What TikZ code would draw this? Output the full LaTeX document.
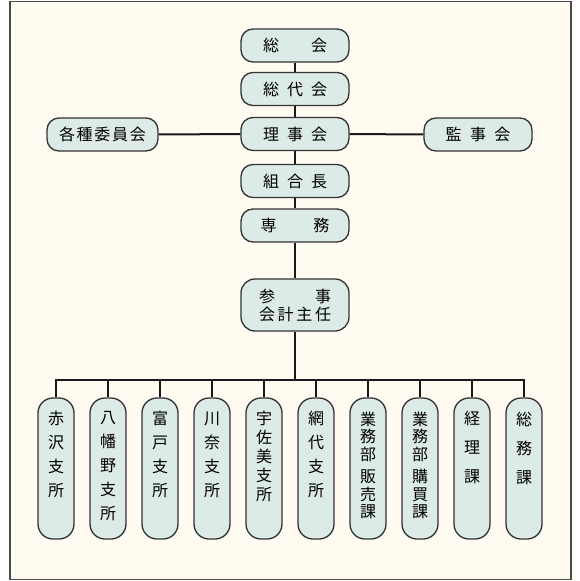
\documentclass[tikz,border=0pt]{standalone}
\usepackage{fontspec}
\setmainfont{Noto Sans CJK JP}
\definecolor{bgcream}{HTML}{FFFBF0}
\definecolor{boxfill}{HTML}{DCEAE8}
\definecolor{boxline}{HTML}{333333}
\definecolor{frameline}{HTML}{4A4A4A}
\newcommand{\spbox}[2]{\makebox[#1][s]{#2}}
\begin{document}
\begin{tikzpicture}[x=1pt,y=-1pt,
  hbox/.style={draw=boxline,fill=boxfill,line width=1.3pt,rounded corners=12pt,
    minimum height=33pt,inner sep=0pt,font=\fontsize{16}{18}\selectfont},
  vbox/.style={draw=boxline,fill=boxfill,line width=1.3pt,rounded corners=15pt,
    minimum width=36pt,minimum height=141pt,inner sep=0pt},
  vtext/.style={anchor=north,inner sep=0pt,align=center},
  conn/.style={line width=2pt,draw=black!90}]
\useasboundingbox (0,0) rectangle (580,581);
\fill[white] (0,0) rectangle (580,581);
\draw[frameline,fill=bgcream,line width=1.4pt] (10,1.5) rectangle (571,579.5);

% top column
\node[hbox,minimum width=108pt] (soukai) at (295,45.5) {\spbox{64pt}{総\hfill 会}};
\node[hbox,minimum width=108pt] (soudai) at (295,89) {\spbox{64pt}{総\hfill 代\hfill 会}};
\node[hbox,minimum width=108pt] (riji) at (295,134) {\spbox{64pt}{理\hfill 事\hfill 会}};
\node[hbox,minimum width=108pt] (kumiai) at (295,181) {\spbox{64pt}{組\hfill 合\hfill 長}};
\node[hbox,minimum width=108pt] (senmu) at (295,225.5) {\spbox{69pt}{専\hfill 務}};
\node[hbox,minimum width=108pt,minimum height=52pt,align=center,rounded corners=14pt] (sanji) at (295,305)
  {\fontsize{16}{20}\selectfont\spbox{72pt}{参\hfill 事}\\\spbox{72pt}{会\hfill 計\hfill 主\hfill 任}};
\node[hbox,minimum width=111pt] (iin) at (102.5,134.5) {\spbox{87pt}{各\hfill 種\hfill 委\hfill 員\hfill 会}};
\node[hbox,minimum width=108pt] (kanji) at (478,134.5) {\spbox{65pt}{監\hfill 事\hfill 会}};

\draw[conn] (soukai) -- (soudai);
\draw[conn] (soudai) -- (riji);
\draw[conn] (riji) -- (kumiai);
\draw[conn] (kumiai) -- (senmu);
\draw[conn] (senmu) -- (sanji);
\draw[conn] (iin) -- (riji);
\draw[conn] (riji) -- (kanji);

% bottom row
\foreach \i/\nm in {0/b1,1/b2,2/b3,3/b4,4/b5,5/b6,6/b7,7/b8,8/b9,9/b10}{
  \node[vbox] (\nm) at ({56+52*\i},468.5) {};
}
\coordinate (bus) at (295,379.5);
\draw[conn] (sanji.south) -- (bus);
\draw[conn] (b1.north) -- (b1.north |- bus) -- (b10.north |- bus) -- (b10.north);
\foreach \nm in {b2,b3,b4,b5,b6,b7,b8,b9}{
  \draw[conn] (\nm.north) -- (\nm.north |- bus);
}

\node[vtext,font=\fontsize{16}{24}\selectfont] (t1) at ([yshift=-14pt]b1.north) {赤\\沢\\支\\所};
\node[vtext,font=\fontsize{16}{24}\selectfont] (t2) at ([yshift=-14pt]b2.north) {八\\幡\\野\\支\\所};
\node[vtext,font=\fontsize{16}{24}\selectfont] (t3) at ([yshift=-14pt]b3.north) {富\\戸\\支\\所};
\node[vtext,font=\fontsize{16}{24}\selectfont] (t4) at ([yshift=-14pt]b4.north) {川\\奈\\支\\所};
\node[vtext,font=\fontsize{16}{19}\selectfont] (t5) at ([yshift=-14pt]b5.north) {宇\\佐\\美\\支\\所};
\node[vtext,font=\fontsize{16}{24}\selectfont] (t6) at ([yshift=-14pt]b6.north) {網\\代\\支\\所};
\node[vtext,font=\fontsize{16}{17.5}\selectfont] (t7) at ([yshift=-14pt]b7.north) {業\\務\\部\\[5pt]販\\売\\課};
\node[vtext,font=\fontsize{16}{17.5}\selectfont] (t8) at ([yshift=-14pt]b8.north) {業\\務\\部\\[5pt]購\\買\\課};
\node[vtext,font=\fontsize{16}{29}\selectfont] (t9) at ([yshift=-14pt]b9.north) {経\\理\\課};
\node[vtext,font=\fontsize{16}{29}\selectfont] (t10) at ([yshift=-14pt]b10.north) {総\\務\\課};
\end{tikzpicture}
\end{document}
